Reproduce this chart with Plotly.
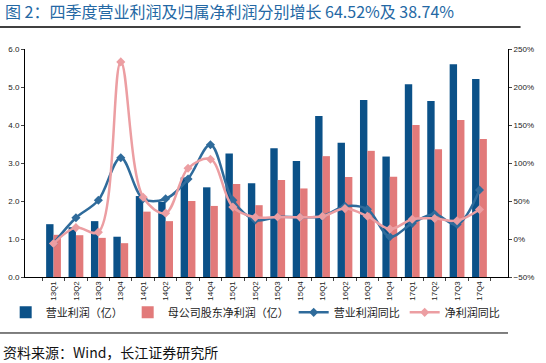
import plotly.graph_objects as go

quarters = ["13Q1","13Q2","13Q3","13Q4","14Q1","14Q2","14Q3","14Q4","15Q1","15Q2",
            "15Q3","15Q4","16Q1","16Q2","16Q3","16Q4","17Q1","17Q2","17Q3","17Q4"]
op_profit = [1.39,1.31,1.47,1.06,2.13,1.98,2.62,2.36,3.25,2.47,
             3.39,3.05,4.24,3.53,4.66,3.17,5.07,4.63,5.60,5.21]
net_profit = [1.11,1.10,1.03,0.89,1.72,1.47,2.00,1.87,2.45,1.89,
              2.55,2.33,3.18,2.63,3.32,2.64,4.00,3.36,4.13,3.63]
op_yoy = [-6,28,51,107,53,53,79,124,51,25,
          29,28.5,30,43,39,3,20.6,32.5,19,64.52]
net_yoy = [-6,15,9,233,55,34,93,105,42,28.5,
           29,28.5,30,40,30,13,26,27,24,38.74]

title_text = "图 2：四季度营业利润及归属净利润分别增长 64.52%及 38.74%"
source_text = "资料来源：Wind，长江证券研究所"

BLUE = "#0B5188"
PINK = "#E27A7A"
LBLUE = "#2F6B9B"
LPINK = "#EC9EA2"
CJK = "Noto Sans CJK SC"
NUM = "Liberation Sans, Arial"

fig = go.Figure()
fig.add_trace(go.Bar(x=quarters, y=op_profit, name="营业利润（亿）", marker_color=BLUE,
                     marker_line_width=0))
fig.add_trace(go.Bar(x=quarters, y=net_profit, name="母公司股东净利润（亿）", marker_color=PINK,
                     marker_line_width=0))
fig.add_trace(go.Scatter(x=quarters, y=op_yoy, name="营业利润同比", yaxis="y2",
                         mode="lines+markers", line=dict(color=LBLUE, width=2.5, shape="spline", smoothing=1.0),
                         marker=dict(symbol="diamond", size=7, color=LBLUE)))
fig.add_trace(go.Scatter(x=quarters, y=net_yoy, name="净利润同比", yaxis="y2",
                         mode="lines+markers", line=dict(color=LPINK, width=2.5, shape="spline", smoothing=1.0),
                         marker=dict(symbol="diamond", size=7, color=LPINK)))

fig.update_layout(
    width=546, height=363,
    margin=dict(l=25, r=38, t=49, b=86, autoexpand=False),
    paper_bgcolor="white", plot_bgcolor="white",
    barmode="group", bargap=0.34, bargroupgap=0,
    showlegend=True,
    legend=dict(orientation="h", x=-0.04, xanchor="left", y=-0.155, yanchor="middle",
                font=dict(family=CJK, size=11, color="#222"), itemwidth=30,
                tracegroupgap=0, bgcolor="rgba(0,0,0,0)"),
    xaxis=dict(type="category", tickangle=-90, tickfont=dict(family=NUM, size=8, color="#222"),
               showline=True, linecolor="black", linewidth=1, ticks="outside", ticklen=3,
               tickson="boundaries", showgrid=False, zeroline=False),
    yaxis=dict(range=[0, 6], dtick=1, tickformat=".1f", showline=True, linecolor="black",
               linewidth=1, ticks="outside", ticklen=3, showgrid=False, zeroline=False,
               tickfont=dict(family=NUM, size=8, color="#222")),
    yaxis2=dict(range=[-50, 250], dtick=50, ticksuffix="%", overlaying="y", side="right",
                showline=True, linecolor="black", linewidth=1, ticks="outside", ticklen=3,
                showgrid=False, zeroline=False, tickfont=dict(family=NUM, size=8, color="#222")),
    font=dict(family=CJK),
)

fig.add_annotation(text=title_text, xref="paper", yref="paper", x=-0.045, y=1.165,
                   xanchor="left", yanchor="middle", showarrow=False,
                   font=dict(family=CJK, size=16, color="#2468A4"))
fig.add_annotation(text=source_text, xref="paper", yref="paper", x=-0.05, y=-0.33,
                   xanchor="left", yanchor="middle", showarrow=False,
                   font=dict(family=CJK, size=14, color="#111"))
fig.add_shape(type="line", xref="paper", yref="paper", x0=-0.052, x1=1.026, y0=1.0965, y1=1.0965,
              line=dict(color="black", width=1.5))
fig.add_shape(type="line", xref="paper", yref="paper", x0=-0.052, x1=1.0, y0=-0.2456, y1=-0.2456,
              line=dict(color="black", width=1))

# remove the browser's default 8px body margin so the figure fills the window exactly
fig.write_html("out.html", config={"displayModeBar": False},
               post_script="document.body.style.margin='0';document.body.style.overflow='hidden';")
